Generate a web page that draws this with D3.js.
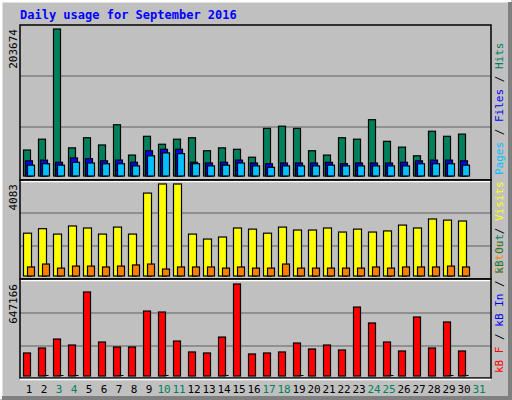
<!DOCTYPE html>
<html><head><meta charset="utf-8">
<script src="https://cdn.jsdelivr.net/npm/d3@7"></script>
<style>body{margin:0;background:#fff}text{font-family:"DejaVu Sans Mono",monospace}</style>
</head><body><div id="chart"></div>
<script>
// daily values
const days = d3.range(1, 32);
const weekend = [3, 4, 10, 11, 17, 18, 24, 25];
const hits = [36000,51000,203674,39000,53000,43000,71000,29000,55000,44000,51000,53000,35000,39000,37000,26000,66000,69000,66000,35000,29000,53000,51000,78000,48000,40000,28000,62000,55000,58000];
const files = [21000,22000,19000,25000,24000,21000,22000,19000,35000,37000,37000,19000,18000,19000,22000,18000,17000,18000,18000,18000,19000,17000,18000,18000,18000,19000,21000,22000,22000,21000];
const pages = [15000,17000,15000,19000,18000,17000,17000,14000,28000,32000,31000,17000,14000,15000,18000,14000,12000,14000,14000,14000,15000,14000,14000,14000,14000,14000,17000,17000,17000,15000];
const visits = [1900,2100,1860,2220,2130,1860,2170,1860,3680,4083,4083,1860,1640,1730,2130,2080,1900,2170,2040,2040,2130,1950,2080,1950,2000,2260,2130,2530,2480,2440];
const sites = [400,530,350,440,440,400,440,490,530,310,400,400,400,350,400,350,350,530,350,350,350,350,350,400,350,400,400,400,440,400];
const kbF = [162000,197000,260000,218000,591000,239000,204000,204000,457000,450000,246000,169000,162000,274000,647166,155000,162000,169000,232000,190000,218000,183000,485000,373000,239000,176000,415000,197000,380000,176000];
const kbIn = [0,7000,7000,7000,0,0,7000,0,0,7000,0,0,0,7000,0,0,0,0,7000,0,0,0,0,0,7000,0,0,0,7000,7000];

const W = 512, H = 400, L = 20, R = 491;
const svg = d3.select("#chart").append("svg").attr("width", W).attr("height", H);

// frame
svg.append("rect").attr("width", W).attr("height", H).attr("fill", "#c0c0c0");
svg.append("path").attr("d", `M1,${H-1}V1H${W-1}`).attr("stroke", "#fff").attr("stroke-width", 3).attr("fill", "none");
svg.append("path").attr("d", `M2,${H-2}H${W-2}V2`).attr("stroke", "#808080").attr("stroke-width", 4).attr("fill", "none");

svg.append("text").attr("x", 20).attr("y", 19).attr("fill", "#0000ff")
  .attr("font-size", 12).attr("font-weight", "bold").text("Daily usage for September 2016");

const x = d3.scaleBand().domain(days).range([L + 3, L + 3 + 15 * 31]);

const panels = [
  {top: 25, bottom: 180, base: 176, maxY: 29, max: 203674, grid: [76, 127],
   series: [{v: hits, c: "#00805c", dx: 2, w: 7}, {v: files, c: "#0000ff", dx: 4, w: 7}, {v: pages, c: "#00c0ff", dx: 6, w: 7}],
   label: [["Pages", "#00c0ff"], ["Files", "#0000ff"], ["Hits", "#00805c"]]},
  {top: 180, bottom: 279, base: 276, maxY: 184, max: 4083, grid: [213, 246],
   series: [{v: visits, c: "#ffff00", dx: 2, w: 8}, {v: sites, c: "#ff8000", dx: 6, w: 7}],
   label: [["Sites", "#ff8000"], ["Visits", "#ffff00"]]},
  {top: 279, bottom: 378, base: 376, maxY: 284, max: 647166, grid: [313, 346],
   series: [{v: kbF, c: "#ff0000", dx: 2, w: 7}, {v: kbIn, c: "#0000ff", dx: 6, w: 6, thin: true}],
   label: [["kB F", "#ff0000"], ["kB In", "#0000ff"], ["kB Out", "#00805c"]]}
];

panels.forEach(p => {
  const y = d3.scaleLinear().domain([0, p.max]).range([p.base, p.maxY]);
  p.grid.forEach(g => svg.append("line").attr("x1", L).attr("x2", R).attr("y1", g).attr("y2", g)
    .attr("stroke", "#808080").attr("stroke-width", 1.5));
  p.series.forEach(s => {
    svg.append("g").selectAll("rect").data(s.v).join("rect")
      .attr("x", (d, i) => x(days[i]) + s.dx - 1.5)
      .attr("y", d => y(d))
      .attr("width", s.w)
      .attr("height", d => p.base - y(d))
      .attr("fill", s.thin ? "#000" : s.c)
      .attr("stroke", "#000").attr("stroke-width", s.thin ? 0 : 1.2)
      .attr("display", d => d > 0 ? null : "none");
  });
  svg.append("rect").attr("x", L).attr("y", p.top).attr("width", R - L).attr("height", p.bottom - p.top)
    .attr("fill", "none").attr("stroke", "#000").attr("stroke-width", 1.5);
  svg.append("line").attr("x1", L).attr("x2", R).attr("y1", p.bottom + 1.5).attr("y2", p.bottom + 1.5)
    .attr("stroke", "#fff").attr("stroke-width", 1.5);
  svg.append("text").attr("transform", `translate(17,${p.maxY}) rotate(-90)`)
    .attr("text-anchor", "end").attr("font-size", 11).attr("fill", "#000").attr("font-family", "DejaVu Sans").text(p.max);
  const t = svg.append("text").attr("transform", `translate(503,${p.bottom - 5}) rotate(-90)`).attr("font-size", 11);
  p.label.forEach((l, i) => {
    if (i) t.append("tspan").attr("fill", "#000").text(" / ");
    t.append("tspan").attr("fill", l[1]).text(l[0]);
  });
});

svg.append("g").selectAll("text").data(days).join("text")
  .attr("x", d => x(d) + 6).attr("y", 393).attr("text-anchor", "middle").attr("font-size", 11)
  .attr("font-family", "DejaVu Sans")
  .attr("fill", d => weekend.includes(d) || d === 31 ? "#00805c" : "#000").text(d => d);
</script></body></html>
